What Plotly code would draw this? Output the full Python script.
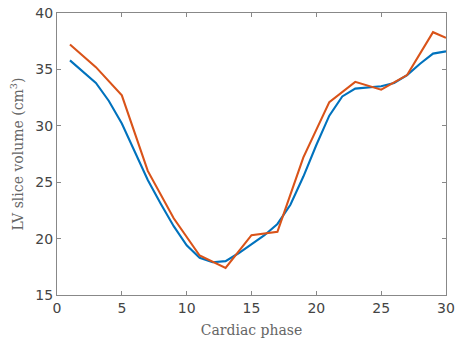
import plotly.graph_objects as go

phase_blue = list(range(1, 31))
vol_blue = [35.8, 34.8, 33.8, 32.2, 30.2, 27.7, 25.2, 23.1, 21.1, 19.4,
            18.3, 17.9, 18.0, 18.7, 19.5, 20.3, 21.3, 23.0, 25.5, 28.3,
            30.9, 32.6, 33.3, 33.4, 33.5, 33.8, 34.5, 35.5, 36.4, 36.6]
phase_orange = [1, 3, 5, 7, 9, 11, 13, 15, 17, 19, 21, 23, 25, 27, 29, 30]
vol_orange = [37.2, 35.2, 32.7, 26.0, 21.8, 18.5, 17.4, 20.3, 20.6, 27.2,
              32.1, 33.9, 33.2, 34.5, 38.3, 37.8]
x_ticks = [0, 5, 10, 15, 20, 25, 30]
y_ticks = [15, 20, 25, 30, 35, 40]

fig = go.Figure()
fig.add_trace(go.Scatter(x=phase_blue, y=vol_blue, mode="lines",
                         line=dict(color="#0072BD", width=2.1)))
fig.add_trace(go.Scatter(x=phase_orange, y=vol_orange, mode="lines",
                         line=dict(color="#D95319", width=2.1)))

axis_common = dict(showgrid=False, zeroline=False, showline=True, linecolor="#888888",
                   linewidth=1, mirror="ticks", ticks="inside", ticklen=4, automargin=False,
                   tickcolor="#888888", tickfont=dict(family="DejaVu Sans", size=14, color="#444444"))
fig.update_xaxes(range=[0, 30], tickvals=x_ticks,
                 title=dict(text="Cardiac phase", font=dict(family="DejaVu Serif", size=14, color="#666666"), standoff=10),
                 **axis_common)
fig.update_yaxes(range=[15, 40], tickvals=y_ticks,
                 title=dict(text="LV slice volume (cm<sup>3</sup>)", font=dict(family="DejaVu Serif", size=14, color="#666666"), standoff=8),
                 **axis_common)
fig.update_layout(width=458, height=345, showlegend=False,
                  margin=dict(l=57, r=12, t=13, b=50),
                  plot_bgcolor="white", paper_bgcolor="white")
# remove the browser's default 8px body margin so the figure fills the window
fig.write_html("out.html", config={"displayModeBar": False},
               post_script="document.body.style.margin='0';document.body.style.overflow='hidden';")
